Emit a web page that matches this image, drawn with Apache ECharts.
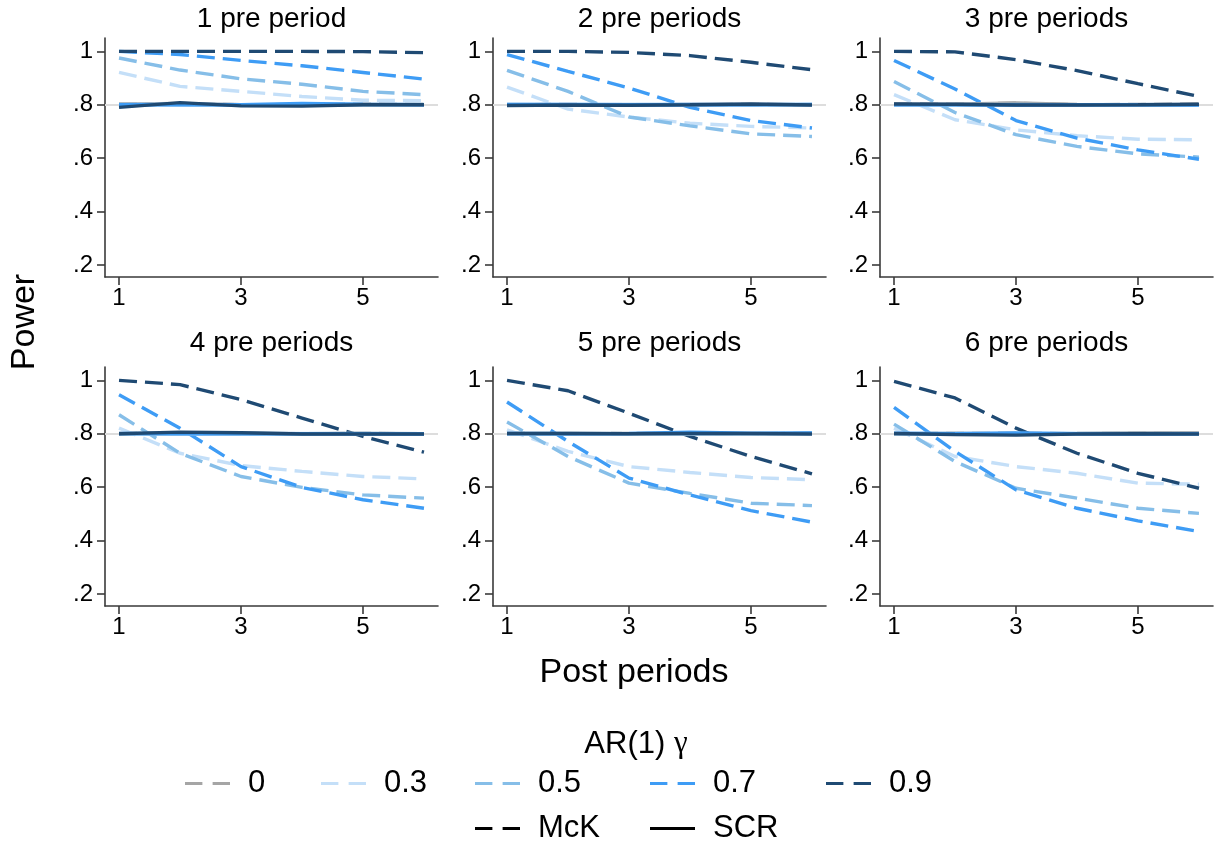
<!DOCTYPE html>
<html>
<head>
<meta charset="utf-8">
<script src="https://cdn.jsdelivr.net/npm/echarts@6/dist/echarts.min.js"></script>
<style>
html,body{margin:0;padding:0;background:#fff;}
#chart{width:1214px;height:842px;}
</style>
</head>
<body>
<div id="chart"></div>
<script>
// ---------------- DATA ----------------
const postPeriods = [1, 2, 3, 4, 5, 6];
const gammas = ['0', '0.3', '0.5', '0.7', '0.9'];
const panelTitles = ['1 pre period', '2 pre periods', '3 pre periods', '4 pre periods', '5 pre periods', '6 pre periods'];
const yTickValues = [0.2, 0.4, 0.6, 0.8, 1];
const yTickLabels = ['.2', '.4', '.6', '.8', '1'];
const xTickValues = [1, 3, 5];
const referenceLevel = 0.8;

// McK (dashed) power, rows = gamma 0, 0.3, 0.5, 0.7, 0.9
const mckPre1 = [
  [0.802, 0.803, 0.800, 0.801, 0.802, 0.801],
  [0.921, 0.869, 0.850, 0.831, 0.817, 0.815],
  [0.975, 0.930, 0.897, 0.877, 0.850, 0.838],
  [1.000, 0.988, 0.966, 0.946, 0.921, 0.896],
  [1.000, 1.000, 1.000, 1.000, 0.999, 0.995]
];
const mckPre2 = [
  [0.800, 0.801, 0.799, 0.800, 0.801, 0.800],
  [0.866, 0.784, 0.754, 0.731, 0.719, 0.713],
  [0.929, 0.850, 0.754, 0.721, 0.691, 0.681],
  [0.988, 0.925, 0.863, 0.790, 0.741, 0.713],
  [1.000, 1.000, 0.996, 0.984, 0.959, 0.931]
];
const mckPre3 = [
  [0.803, 0.802, 0.806, 0.800, 0.801, 0.803],
  [0.838, 0.744, 0.706, 0.684, 0.671, 0.669],
  [0.887, 0.771, 0.688, 0.644, 0.616, 0.604],
  [0.966, 0.859, 0.741, 0.675, 0.631, 0.596],
  [1.000, 0.998, 0.969, 0.928, 0.879, 0.831]
];
const mckPre4 = [
  [0.801, 0.802, 0.801, 0.800, 0.801, 0.800],
  [0.821, 0.727, 0.681, 0.659, 0.640, 0.631],
  [0.871, 0.727, 0.640, 0.599, 0.571, 0.559],
  [0.946, 0.821, 0.677, 0.599, 0.553, 0.521],
  [1.000, 0.984, 0.928, 0.859, 0.790, 0.731]
];
const mckPre5 = [
  [0.801, 0.800, 0.801, 0.802, 0.800, 0.802],
  [0.815, 0.734, 0.677, 0.655, 0.636, 0.628],
  [0.844, 0.715, 0.615, 0.577, 0.540, 0.531],
  [0.919, 0.771, 0.634, 0.571, 0.512, 0.469],
  [1.000, 0.961, 0.877, 0.790, 0.715, 0.650]
];
const mckPre6 = [
  [0.800, 0.801, 0.802, 0.800, 0.802, 0.803],
  [0.821, 0.715, 0.677, 0.652, 0.615, 0.611],
  [0.836, 0.696, 0.596, 0.559, 0.521, 0.502],
  [0.899, 0.734, 0.590, 0.521, 0.474, 0.434],
  [0.996, 0.934, 0.821, 0.727, 0.652, 0.596]
];

// SCR (solid) power, rows = gamma 0, 0.3, 0.5, 0.7, 0.9
const scrPre1 = [
  [0.802, 0.805, 0.800, 0.799, 0.801, 0.800],
  [0.800, 0.802, 0.800, 0.801, 0.799, 0.800],
  [0.801, 0.800, 0.799, 0.801, 0.800, 0.801],
  [0.800, 0.801, 0.800, 0.805, 0.802, 0.800],
  [0.790, 0.808, 0.796, 0.795, 0.800, 0.800]
];
const scrPre2 = [
  [0.799, 0.800, 0.799, 0.801, 0.800, 0.800],
  [0.800, 0.801, 0.800, 0.800, 0.801, 0.800],
  [0.801, 0.800, 0.801, 0.800, 0.800, 0.801],
  [0.801, 0.801, 0.800, 0.801, 0.800, 0.801],
  [0.797, 0.799, 0.798, 0.800, 0.803, 0.799]
];
const scrPre3 = [
  [0.801, 0.802, 0.807, 0.801, 0.799, 0.800],
  [0.800, 0.801, 0.800, 0.800, 0.801, 0.800],
  [0.800, 0.800, 0.801, 0.800, 0.800, 0.800],
  [0.800, 0.800, 0.799, 0.800, 0.800, 0.799],
  [0.803, 0.802, 0.799, 0.799, 0.800, 0.802]
];
const scrPre4 = [
  [0.800, 0.801, 0.802, 0.800, 0.801, 0.800],
  [0.801, 0.800, 0.800, 0.801, 0.800, 0.799],
  [0.800, 0.801, 0.800, 0.800, 0.801, 0.800],
  [0.801, 0.800, 0.801, 0.800, 0.800, 0.799],
  [0.800, 0.806, 0.804, 0.799, 0.799, 0.799]
];
const scrPre5 = [
  [0.800, 0.801, 0.800, 0.801, 0.800, 0.802],
  [0.801, 0.800, 0.801, 0.800, 0.801, 0.800],
  [0.800, 0.801, 0.800, 0.801, 0.800, 0.801],
  [0.801, 0.800, 0.801, 0.806, 0.802, 0.803],
  [0.801, 0.801, 0.800, 0.801, 0.801, 0.799]
];
const scrPre6 = [
  [0.800, 0.801, 0.800, 0.801, 0.803, 0.804],
  [0.801, 0.800, 0.801, 0.800, 0.800, 0.801],
  [0.800, 0.801, 0.800, 0.801, 0.801, 0.800],
  [0.802, 0.800, 0.803, 0.800, 0.799, 0.800],
  [0.801, 0.797, 0.795, 0.799, 0.800, 0.799]
];

const mckPanels = [mckPre1, mckPre2, mckPre3, mckPre4, mckPre5, mckPre6];
const scrPanels = [scrPre1, scrPre2, scrPre3, scrPre4, scrPre5, scrPre6];

// ---------------- STYLE ----------------
const gammaColors = ['#a5a5a5', '#c4dff8', '#86bee8', '#3e9cf5', '#1f4a73'];
const FONT = "'Liberation Sans', Arial, Helvetica, sans-serif";
const DASH = [18, 8];
const LW = 3.4;
const DASH_ICON = 'path://M0,0 H17 V3 H0 Z M27,0 H44 V3 H27 Z';
const SOLID_ICON = 'path://M0,0 H44 V3 H0 Z';

const gridLefts = [105, 493, 880];
const gridTops = [38, 367];
const gridW = 333, gridH = 239;

const grids = [], xAxes = [], yAxes = [], series = [], graphics = [];

for (let p = 0; p < 6; p++) {
  const col = p % 3, row = Math.floor(p / 3);
  grids.push({ left: gridLefts[col], top: gridTops[row], width: gridW, height: gridH, containLabel: false });
  xAxes.push({
    type: 'value', gridIndex: p, min: 0.77, max: 6.23,
    axisLine: { show: true, onZero: false, lineStyle: { color: '#3a3a3a', width: 1.6 } },
    axisTick: { show: true, length: 8, customValues: xTickValues, lineStyle: { color: '#3a3a3a', width: 1.6 } },
    axisLabel: { customValues: xTickValues, margin: 9, fontSize: 24, color: '#000', fontFamily: FONT },
    splitLine: { show: false }
  });
  yAxes.push({
    type: 'value', gridIndex: p, min: 0.155, max: 1.05,
    axisLine: { show: true, onZero: false, lineStyle: { color: '#3a3a3a', width: 1.6 } },
    axisTick: { show: true, length: 8, customValues: yTickValues, lineStyle: { color: '#3a3a3a', width: 1.6 } },
    axisLabel: {
      customValues: yTickValues, margin: 12, fontSize: 24, color: '#000', fontFamily: FONT,
      formatter: function (v) {
        let best = 0;
        for (let i = 0; i < yTickValues.length; i++) if (Math.abs(yTickValues[i] - v) < Math.abs(yTickValues[best] - v)) best = i;
        return yTickLabels[best];
      }
    },
    splitLine: { show: false }
  });

  // McK dashed
  for (let g = 0; g < gammas.length; g++) {
    const s = {
      name: gammas[g], type: 'line', xAxisIndex: p, yAxisIndex: p,
      data: postPeriods.map((x, i) => [x, mckPanels[p][g][i]]),
      symbol: 'none', showSymbol: false, silent: true, animation: false,
      lineStyle: { color: gammaColors[g], width: LW, type: DASH },
      itemStyle: { color: gammaColors[g] },
      z: 3
    };
    if (g === 0) {
      s.markLine = {
        silent: true, symbol: 'none', animation: false, label: { show: false },
        lineStyle: { color: '#dddddd', width: 2, type: 'solid' },
        data: [{ yAxis: referenceLevel }], z: 1
      };
    }
    series.push(s);
  }
  // SCR solid
  for (let g = 0; g < gammas.length; g++) {
    series.push({
      name: gammas[g], type: 'line', xAxisIndex: p, yAxisIndex: p,
      data: postPeriods.map((x, i) => [x, scrPanels[p][g][i]]),
      symbol: 'none', showSymbol: false, silent: true, animation: false,
      lineStyle: { color: gammaColors[g], width: LW, type: 'solid' },
      itemStyle: { color: gammaColors[g] },
      z: 4
    });
  }

  graphics.push({
    type: 'text', x: gridLefts[col] + gridW / 2, y: row === 0 ? 19 : 343,
    style: { text: panelTitles[p], textAlign: 'center', textVerticalAlign: 'middle', fontSize: 28, fontFamily: FONT, fill: '#000' }
  });
}

// dummy series for method legend entries
series.push({ name: 'McK', type: 'line', data: [], xAxisIndex: 0, yAxisIndex: 0, symbol: 'none',
  lineStyle: { color: '#000', width: LW, type: DASH }, itemStyle: { color: '#000' } });
series.push({ name: 'SCR', type: 'line', data: [], xAxisIndex: 0, yAxisIndex: 0, symbol: 'none',
  lineStyle: { color: '#000', width: LW, type: 'solid' }, itemStyle: { color: '#000' } });

graphics.push({ type: 'text', x: 25, y: 322, rotation: Math.PI / 2,
  style: { text: 'Power', textAlign: 'center', textVerticalAlign: 'middle', fontSize: 34, fontFamily: FONT, fill: '#000' } });
graphics.push({ type: 'text', x: 634, y: 673,
  style: { text: 'Post periods', textAlign: 'center', textVerticalAlign: 'middle', fontSize: 34, fontFamily: FONT, fill: '#000' } });
graphics.push({ type: 'text', x: 636, y: 744,
  style: {
    text: 'AR(1) {g|γ}', textAlign: 'center', textVerticalAlign: 'middle', fontSize: 31, fontFamily: FONT, fill: '#000',
    rich: { g: { fontSize: 31, fontFamily: "'Liberation Serif', 'DejaVu Serif', serif", fill: '#000' } }
  } });

// legends
const legendItems = [
  { name: '0', left: 185, row: 0, icon: DASH_ICON },
  { name: '0.3', left: 321, row: 0, icon: DASH_ICON },
  { name: '0.5', left: 475, row: 0, icon: DASH_ICON },
  { name: '0.7', left: 650, row: 0, icon: DASH_ICON },
  { name: '0.9', left: 826, row: 0, icon: DASH_ICON },
  { name: 'McK', left: 475, row: 1, icon: DASH_ICON },
  { name: 'SCR', left: 650, row: 1, icon: SOLID_ICON }
];
const legendRowCenters = [784, 829];
const legends = legendItems.map(it => ({
  data: [{ name: it.name, icon: it.icon }],
  left: it.left, top: legendRowCenters[it.row] - 16, padding: 0,
  itemWidth: 45, itemHeight: 3, symbolKeepAspect: false,
  selectedMode: false, orient: 'horizontal',
  textStyle: { fontSize: 31, color: '#000', fontFamily: FONT, padding: [0, 0, 0, 13] }
}));

const chart = echarts.init(document.getElementById('chart'), null, { renderer: 'canvas' });
chart.setOption({
  backgroundColor: '#ffffff',
  animation: false,
  grid: grids,
  xAxis: xAxes,
  yAxis: yAxes,
  legend: legends,
  series: series,
  graphic: graphics
});
</script>
</body>
</html>
